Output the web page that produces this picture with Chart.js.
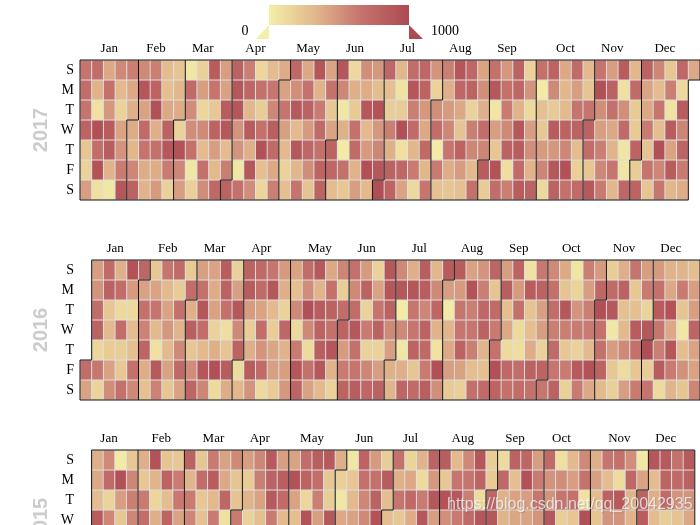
<!DOCTYPE html>
<html>
<head>
<meta charset="utf-8">
<title>Calendar heatmap</title>
<script src="https://cdn.jsdelivr.net/npm/chart.js@4"></script>
<style>
  html, body { margin: 0; padding: 0; background: #fff; overflow: hidden; width: 700px; height: 525px; }
  canvas { position: absolute; left: 0; }
</style>
</head>
<body>
<canvas id="cal2017" width="700" height="205" style="top:0"></canvas>
<canvas id="cal2016" width="700" height="205" style="top:200px"></canvas>
<canvas id="cal2015" width="700" height="205" style="top:390px"></canvas>
<script>
const monthNames = ["Jan", "Feb", "Mar", "Apr", "May", "Jun", "Jul", "Aug", "Sep", "Oct", "Nov", "Dec"];
const dayNames = ["S", "M", "T", "W", "T", "F", "S"];

// one array per weekday, values left to right
const sun2017 = [650,700,400,550,600,550,600,300,250,50,180,850,450,800,600,150,300,380,750,400,900,420,900,130,520,480,750,330,700,750,500,600,900,750,420,680,480,800,170,680,780,400,720,320,650,450,850,330,800,560,230,750,400];
const mon2017 = [700,350,680,320,400,900,780,280,330,720,450,650,430,880,750,680,640,430,520,660,350,660,560,370,380,290,280,70,900,780,170,370,750,780,520,880,680,750,500,30,550,330,450,250,950,800,80,720,420,300,600,130];
const tue2017 = [650,80,480,170,370,430,930,400,380,530,150,230,850,900,330,200,560,650,870,800,620,230,50,220,880,920,200,210,600,480,520,470,400,170,370,60,620,350,120,270,220,320,650,650,520,680,520,220,400,640,70,850];
const wed2017 = [780,940,850,420,380,720,370,800,170,530,540,780,880,500,850,680,820,440,320,470,720,420,360,680,320,480,600,950,720,400,700,560,260,600,700,450,550,880,450,230,850,780,800,800,450,400,720,220,620,290,850,570];
const thu2017 = [240,700,830,500,330,650,680,880,920,680,300,450,300,500,370,930,720,320,880,750,680,780,30,720,470,560,360,90,330,730,30,640,780,560,570,240,800,850,520,470,480,560,300,700,600,340,60,780,260,950,420,770];
const fri2017 = [170,920,350,620,560,380,380,620,560,50,680,310,600,50,880,280,400,170,330,530,780,750,680,350,950,880,800,750,620,330,620,380,460,320,850,920,100,720,350,570,880,930,190,240,560,640,60,200,650,560,850,620];
const sat2017 = [450,90,50,900,800,350,470,180,450,190,530,740,800,680,530,150,600,280,650,260,780,300,230,450,320,970,780,420,130,640,270,240,270,680,210,700,600,850,800,130,800,680,720,870,620,330,750,780,250,640,330,380];

const sun2016 = [450,720,360,920,760,230,640,720,220,440,420,850,180,780,730,640,470,420,700,870,400,570,680,470,170,880,550,370,830,330,850,850,430,500,770,450,780,70,630,550,390,60,600,470,200,370,650,450,470,350,340,290];
const mon2016 = [500,800,700,470,430,420,320,210,700,680,380,800,440,850,720,880,370,280,530,340,680,200,550,800,430,900,880,900,830,550,450,470,920,600,250,830,470,850,800,680,250,160,450,750,720,800,230,620,680,400,620,450];
const tue2016 = [700,240,130,130,680,650,420,680,360,900,430,680,880,460,420,310,170,550,950,850,800,700,700,170,650,800,30,640,560,760,30,640,600,750,720,280,680,260,440,700,880,500,600,950,880,270,280,160,850,920,250,450];
const wed2016 = [800,310,700,300,580,310,480,340,820,700,170,100,550,200,700,200,750,130,550,780,680,780,880,620,800,550,550,640,790,350,340,640,640,800,620,400,120,280,450,600,600,620,620,680,50,320,850,880,640,400,50,770];
const thu2016 = [150,210,200,280,770,80,320,550,240,320,370,250,780,370,500,410,350,620,120,820,900,460,680,170,170,450,50,780,730,70,400,780,600,340,660,120,100,380,170,720,230,170,320,680,460,550,680,970,600,900,290,420];
const fri2016 = [700,640,430,230,680,380,860,430,730,530,900,950,840,120,850,720,440,450,900,680,880,350,620,650,560,450,360,370,240,620,950,450,430,290,280,950,740,700,800,780,640,620,860,920,780,230,110,240,200,840,620,510,430];
const sat2016 = [430,160,530,680,550,270,580,240,430,760,570,120,380,330,500,130,210,480,770,430,320,170,780,830,750,800,340,760,720,820,520,220,190,680,720,780,680,700,680,640,800,180,620,400,310,190,450,620,650,120,340,250,570];

// 2015 only shows its first rows, the rest is below the window
const sun2015 = [370,540,30,230,370,920,250,230,800,240,620,430,550,450,560,860,450,430,700,820,860,370,50,780,470,200,680,160,350,800,830,320,550,900,200,120,800,760,450,720,90,320,550,370,640,680,520,40,900,860,680,860];
const mon2015 = [400,720,950,560,240,340,780,620,340,700,850,400,250,220,600,800,820,930,780,700,230,190,240,670,680,850,360,400,120,480,230,650,650,780,220,740,280,930,620,500,520,450,660,440,300,110,750,420,300,780,720,800];
const tue2015 = [300,160,450,600,620,150,290,630,620,230,320,750,260,350,430,860,720,430,150,600,200,50,320,560,800,290,650,740,620,880,920,880,600,120,750,360,430,450,640,500,650,680,80,300,780,870,340,800,370,720,500,500];
const wed2015 = [850,560,230,560,700,370,780,430,560,270,620,90,620,170,280,620,320,280,920,450,880,400,430,550,920,290,230,380,880,450,520,620,720,880,880,340,410,420,500,880,200,240,950,250,500,500,350,850,300,200,260,400];

const colorStops = [
  { v: 0, c: [244, 239, 168] },
  { v: 330, c: [226, 183, 140] },
  { v: 660, c: [197, 114, 109] },
  { v: 1000, c: [173, 74, 82] },
];

function colorFor(value) {
  for (let i = 1; i < colorStops.length; i++) {
    const a = colorStops[i - 1];
    const b = colorStops[i];
    if (value <= b.v) {
      const t = (value - a.v) / (b.v - a.v);
      const rgb = a.c.map((ch, j) => Math.round(ch + (b.c[j] - ch) * t));
      return `rgb(${rgb.join(",")})`;
    }
  }
  return "rgb(173,74,82)";
}

const dayMs = 86400000;

function cellOf(year, month, day) {
  const first = Date.UTC(year, 0, 1);
  const date = Date.UTC(year, month, day);
  const startDow = new Date(first).getUTCDay();
  const doy = Math.round((date - first) / dayMs);
  return { week: Math.floor((doy + startDow) / 7), row: new Date(date).getUTCDay() };
}

function edgePoints(year, month) {
  const { week, row } = cellOf(year, month, 1);
  if (row === 0) {
    return [{ x: week, y: 7 }, { x: week, y: 0 }];
  }
  return [{ x: week, y: 7 }, { x: week, y: row }, { x: week + 1, y: row }, { x: week + 1, y: 0 }];
}

function lineDataset(points) {
  return {
    type: "line",
    data: points,
    xAxisID: "months",
    borderColor: "#111",
    borderWidth: 1,
    pointRadius: 0,
    tension: 0,
    fill: false,
    clip: false,
    order: 0,
  };
}

function monthCentres(year) {
  return monthNames.map((name, m) => {
    const a = cellOf(year, m, 1).week;
    const b = cellOf(year, m + 1, 0).week;
    return (a + b + 1) / 2;
  });
}

const legendPlugin = {
  id: "rangeLegend",
  afterDraw(chart) {
    const ctx = chart.ctx;
    ctx.save();
    const grad = ctx.createLinearGradient(269, 0, 409, 0);
    colorStops.forEach((s) => grad.addColorStop(s.v / 1000, colorFor(s.v)));
    ctx.fillStyle = grad;
    ctx.fillRect(269, 5, 140, 20);
    ctx.fillStyle = colorFor(0);
    ctx.beginPath();
    ctx.moveTo(269, 25);
    ctx.lineTo(269, 39);
    ctx.lineTo(256, 39);
    ctx.fill();
    ctx.fillStyle = colorFor(1000);
    ctx.beginPath();
    ctx.moveTo(409, 25);
    ctx.lineTo(409, 39);
    ctx.lineTo(423, 39);
    ctx.fill();
    ctx.fillStyle = "#000";
    ctx.font = '14px "Liberation Serif"';
    ctx.textBaseline = "middle";
    ctx.textAlign = "center";
    ctx.fillText("0", 245, 31);
    ctx.fillText("1000", 445, 31);
    ctx.restore();
  },
};

const watermarkPlugin = {
  id: "watermark",
  afterDraw(chart) {
    const ctx = chart.ctx;
    ctx.save();
    ctx.font = '16px "Liberation Sans"';
    ctx.textBaseline = "middle";
    ctx.textAlign = "left";
    ctx.fillStyle = "rgba(255,255,255,0.7)";
    ctx.shadowColor = "rgba(90,90,90,0.4)";
    ctx.shadowBlur = 1;
    ctx.shadowOffsetX = 1;
    ctx.shadowOffsetY = 1;
    ctx.fillText("https://blog.csdn.net/qq_20042935", 447, 115);
    ctx.restore();
  },
};

function makeYear(id, year, rows, rightPad, plugins) {
  const weeks = Array.from({ length: 53 }, (_, i) => String(i));
  const startRow = cellOf(year, 0, 1).row;
  const centres = monthCentres(year);

  const bars = rows.map((values, r) => {
    const offset = r >= startRow ? 0 : 1;
    const data = new Array(53).fill(null);
    const colors = new Array(53).fill("transparent");
    values.forEach((v, i) => {
      data[i + offset] = [r, r + 1];
      colors[i + offset] = colorFor(v);
    });
    return {
      type: "bar",
      data: data,
      backgroundColor: colors,
      borderColor: "#ddd",
      borderWidth: 0.8,
      borderSkipped: false,
      grouped: false,
      barPercentage: 1,
      categoryPercentage: 1,
      order: 1,
    };
  });

  const edges = [];
  for (let m = 0; m <= 12; m++) {
    edges.push(lineDataset(edgePoints(year, m)));
  }
  const startEdge = edgePoints(year, 0);
  const endEdge = edgePoints(year, 12);
  edges.push(lineDataset([startEdge[startEdge.length - 1], endEdge[endEdge.length - 1]]));
  edges.push(lineDataset([startEdge[0], endEdge[0]]));

  return new Chart(document.getElementById(id), {
    type: "bar",
    data: { labels: weeks, datasets: bars.concat(edges) },
    plugins: plugins,
    options: {
      responsive: false,
      animation: false,
      events: [],
      layout: { padding: { top: 0, right: rightPad, bottom: 5, left: 0 } },
      plugins: { legend: { display: false }, tooltip: { enabled: false } },
      scales: {
        x: { type: "category", display: false, offset: true, grid: { display: false } },
        months: {
          type: "linear",
          position: "top",
          min: 0,
          max: 53,
          offset: false,
          grid: { display: false, drawTicks: false, offset: false },
          border: { display: false },
          afterBuildTicks(scale) {
            scale.ticks = centres.map((c) => ({ value: c }));
          },
          afterFit(scale) {
            scale.height = 60;
            scale.paddingLeft = 0;
            scale.paddingRight = 0;
          },
          ticks: {
            autoSkip: false,
            maxRotation: 0,
            padding: 4,
            color: "#000",
            font: { family: "Liberation Serif", size: 13 },
            callback: (value) => monthNames[centres.indexOf(value)],
          },
        },
        y: {
          type: "linear",
          reverse: true,
          min: 0,
          max: 7,
          grid: { display: false, drawTicks: false },
          border: { display: false },
          afterBuildTicks(scale) {
            scale.ticks = dayNames.map((d, i) => ({ value: i + 0.5 }));
          },
          afterFit(scale) {
            scale.width = 80;
            scale.paddingTop = 0;
            scale.paddingBottom = 0;
          },
          title: {
            display: true,
            text: String(year),
            color: "#ccc",
            font: { family: "Liberation Sans", size: 20, weight: "bold" },
            padding: { top: 29, bottom: 0 },
          },
          ticks: {
            autoSkip: false,
            padding: 6,
            color: "#000",
            font: { family: "Liberation Serif", size: 14 },
            callback: (value) => dayNames[value - 0.5],
          },
        },
      },
    },
  });
}

makeYear("cal2017", 2017, [sun2017, mon2017, tue2017, wed2017, thu2017, fri2017, sat2017], 0, [legendPlugin]);
makeYear("cal2016", 2016, [sun2016, mon2016, tue2016, wed2016, thu2016, fri2016, sat2016], 0, []);
makeYear("cal2015", 2015, [sun2015, mon2015, tue2015, wed2015], 5.2, [watermarkPlugin]);
</script>
</body>
</html>
